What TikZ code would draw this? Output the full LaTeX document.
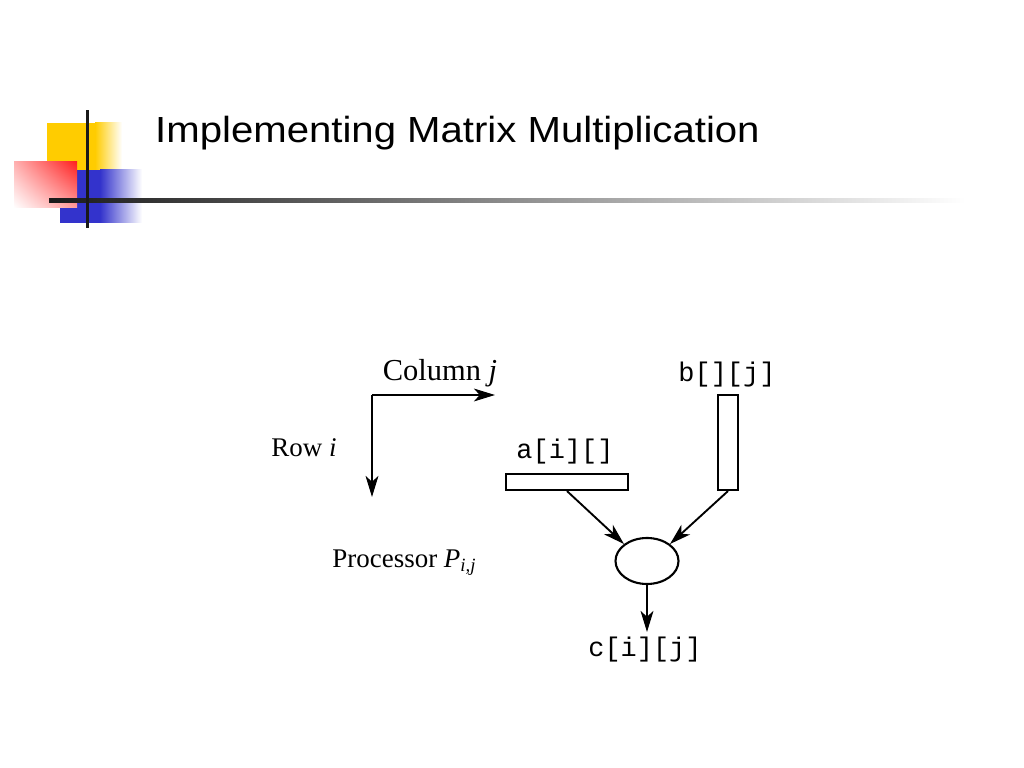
\documentclass[tikz,border=0pt]{standalone}
\usepackage{fontspec}
\setmainfont{Liberation Serif}
\newfontfamily\titlefont[FakeStretch=1.105]{Liberation Sans}
\newfontfamily\codefont{Liberation Mono}
\usetikzlibrary{arrows.meta,shadings,shapes.geometric}
\definecolor{logoyellow}{HTML}{FFCC00}
\definecolor{logoblue}{HTML}{3333CC}
\definecolor{logored}{HTML}{FF2020}
\tikzset{
  lbl/.style={inner sep=0pt, font=\fontsize{23}{23}\selectfont},
  code/.style={inner sep=0pt, font=\codefont\fontsize{23}{23}\selectfont},
  bar/.style={draw, line width=1.8pt, inner sep=0pt, fill=white},
  arr/.style={line width=1.6pt, -{Stealth[length=18pt,width=11pt,inset=5pt]}},
}
\newcommand{\subij}{\raisebox{-0.35ex}{\fontsize{16}{16}\selectfont\textit{i,j}}}
\begin{document}
\begin{tikzpicture}[x=0.03cm,y=-0.03cm]
\useasboundingbox (0,0) rectangle (1024,768);
% logo
\fill[logoyellow] (47,123) rectangle (95,190);
\shade[left color=logoyellow, right color=white] (95,123) rectangle (122,190);
\fill[logoblue] (60,170) rectangle (100,223);
\shade[left color=logoblue, right color=white] (100,170) rectangle (142,223);
\shade[upper right=logored, upper left=logored!35, lower right=logored!45, lower left=white] (14,162) rectangle (77,208);
\shade[left color=black!90, middle color=black!60, right color=white] (49,199) rectangle (965,203);
\fill[black!90] (85.5,110) rectangle (88.5,228);
% title
\node[inner sep=0pt, anchor=west, font=\titlefont\fontsize{31}{31}\selectfont] (title) at (155,133) {Implementing Matrix Multiplication};
% diagram
\coordinate (o) at (372,395);
\coordinate (colend) at (495,395);
\coordinate (rowend) at (372,497);
\draw[arr] (o) -- (colend);
\draw[arr] (o) -- (rowend);
\node[lbl, font=\fontsize{26}{26}\selectfont] (col) at (440,373) {Column \textit{j}};
\node[lbl] (row) at (304,448) {Row \textit{i}};
\node[code] (alab) at (565,452) {a[i][]};
\node[code] (blab) at (727,375) {b[][j]};
\node[bar, minimum width=122*0.03cm, minimum height=16*0.03cm] (a) at (567,482) {};
\node[bar, minimum width=20*0.03cm, minimum height=95*0.03cm] (b) at (728,442.5) {};
\node[draw, line width=1.8pt, ellipse, minimum width=63*0.03cm, minimum height=46*0.03cm, inner sep=0pt] (p) at (647,561) {};
\coordinate (cend) at (647,632);
\draw[arr] (a.south) -- (p.north west);
\draw[arr] (b.south) -- (p.north east);
\draw[arr] (p.south) -- (cend);
\node[code] (clab) at (645,650) {c[i][j]};
\node[lbl] (proc) at (404,563) {Processor \textit{P}\subij};
\end{tikzpicture}
\end{document}
